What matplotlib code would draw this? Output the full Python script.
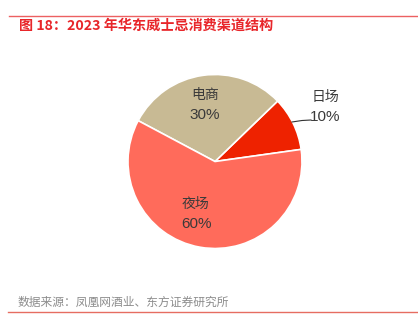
import matplotlib.pyplot as plt
from matplotlib.lines import Line2D

plt.rcParams['font.family'] = ['Noto Sans CJK SC', 'DejaVu Sans']

channels = ["日场", "电商", "夜场"]
shares = [10, 30, 60]
colors = ["#EE2200", "#C8BA94", "#FF6B5B"]

W, H = 418, 328
fig = plt.figure(figsize=(W / 100, H / 100), dpi=100)

# pie axes in pixel coordinates: center (215,161), radius ~87
cx, cy, r = 215, 161.5, 87
ax = fig.add_axes([(cx - r) / W, 1 - (cy + r) / H, 2 * r / W, 2 * r / H])
wedges, _ = ax.pie(shares, colors=colors, startangle=8, counterclock=True,
                   wedgeprops=dict(edgecolor="white", linewidth=1.2))
ax.set_xlim(-1, 1)
ax.set_ylim(-1, 1)
ax.set_aspect("auto")


def px(x, y):
    return x / W, 1 - y / H


label_pos = {"日场": (325, 97), "电商": (205, 95), "夜场": (196, 204)}
for name, val in zip(channels, shares):
    x, y = label_pos[name]
    fig.text(*px(x, y), name, ha="center", va="center", fontsize=10, color="#3a3a3a")
    fig.text(*px(x, y + 20), f"{val}%", ha="center", va="center", fontsize=11,
             color="#3a3a3a", family=["Liberation Sans", "DejaVu Sans"])

# leader line for the small slice
fig.add_artist(Line2D([292 / W, 302 / W, 311 / W], [1 - 122 / H, 1 - 120.5 / H, 1 - 120 / H],
                      color="#333333", linewidth=0.8))

# header / footer rules
fig.add_artist(Line2D([9 / W, 1], [1 - 15.5 / H] * 2, color="#E8393A", linewidth=1.0, alpha=0.8))
fig.add_artist(Line2D([8 / W, 1], [1 - 311.5 / H] * 2, color="#E0493A", linewidth=1.0, alpha=0.8))

fig.text(*px(19, 26), "图 18：2023 年华东威士忌消费渠道结构", ha="left", va="center",
         fontsize=10.2, color="#E8262A", fontweight="bold")
fig.text(*px(18, 302), "数据来源：凤凰网酒业、东方证券研究所", ha="left", va="center",
         fontsize=8.5, color="#8C8C8C")

fig.savefig("out.png", dpi=100, facecolor="white")
